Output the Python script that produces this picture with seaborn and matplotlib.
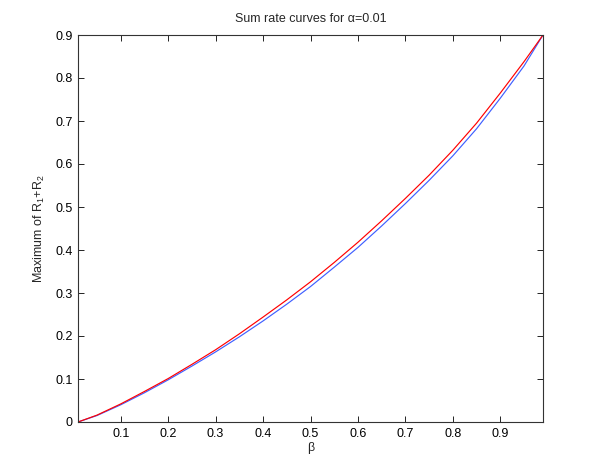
import matplotlib
matplotlib.use("Agg")
import matplotlib.pyplot as plt
import seaborn as sns
import pandas as pd

beta = [0.01, 0.05, 0.1, 0.15, 0.2, 0.25, 0.3, 0.35, 0.4, 0.45, 0.5,
        0.55, 0.6, 0.65, 0.7, 0.75, 0.8, 0.85, 0.9, 0.95, 0.99]
red_curve = [0.0, 0.016, 0.042, 0.071, 0.101, 0.134, 0.168, 0.205, 0.244, 0.284, 0.326,
             0.371, 0.418, 0.468, 0.520, 0.574, 0.632, 0.695, 0.765, 0.838, 0.90]
blue_curve = [0.0, 0.015, 0.040, 0.068, 0.098, 0.130, 0.163, 0.198, 0.235, 0.274, 0.315,
              0.360, 0.406, 0.456, 0.508, 0.562, 0.619, 0.682, 0.753, 0.828, 0.90]
x_ticks = [0.1, 0.2, 0.3, 0.4, 0.5, 0.6, 0.7, 0.8, 0.9]
y_ticks = [0, 0.1, 0.2, 0.3, 0.4, 0.5, 0.6, 0.7, 0.8, 0.9]

sns.set_style("white")
plt.rcParams['font.family'] = ['Liberation Sans', 'DejaVu Sans']
plt.rcParams['mathtext.fontset'] = 'custom'
plt.rcParams['mathtext.rm'] = 'Liberation Sans'
plt.rcParams['mathtext.it'] = 'Liberation Sans'

df = pd.DataFrame({
    'beta': beta * 2,
    'rate': blue_curve + red_curve,
    'curve': ['blue'] * len(beta) + ['red'] * len(beta),
})

fig = plt.figure(figsize=(5.99, 4.75), dpi=100)
ax = fig.add_axes([78/599, 1-422/475, (543-78)/599, (422-35)/475])

sns.lineplot(data=df, x='beta', y='rate', hue='curve',
             palette={'blue': '#3f5fff', 'red': '#ff0000'},
             linewidth=0.85, legend=False, ax=ax, sort=False)

ax.set_xlim(0.01, 0.99)
ax.set_ylim(0, 0.9)
ax.set_xticks(x_ticks)
ax.set_yticks(y_ticks)
ax.set_xticklabels([f"{t:g}" for t in x_ticks])
ax.set_yticklabels([f"{t:g}" for t in y_ticks])
ax.tick_params(direction='in', length=4, width=0.6, labelsize=9,
               top=True, right=True, bottom=True, left=True, pad=4,
               colors='black')
for s in ax.spines.values():
    s.set_visible(True)
    s.set_color('#333333')
    s.set_linewidth(0.8)

ax.set_title('Sum rate curves for α=0.01', fontsize=9, pad=9)
ax.set_xlabel('β', fontsize=9, labelpad=2)
ax.set_ylabel('Maximum of R$_\\mathregular{1}$+R$_\\mathregular{2}$', fontsize=9, labelpad=6)

fig.savefig('out.png', dpi=100)
